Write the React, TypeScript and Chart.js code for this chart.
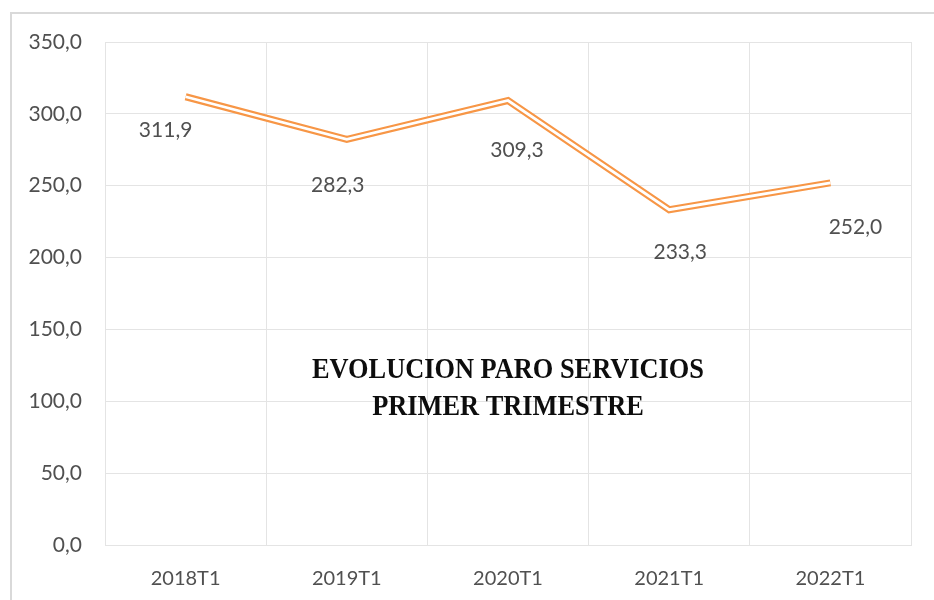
import React, { useEffect, useRef } from "react";
import { Chart, registerables } from "chart.js";

Chart.register(...registerables);

const categories = ["2018T1", "2019T1", "2020T1", "2021T1", "2022T1"];
const paroServicios = [311.9, 282.3, 309.3, 233.3, 252.0];
const yTicks = { min: 0, max: 350, step: 50 };
const titleLines = ["EVOLUCION PARO SERVICIOS", "PRIMER TRIMESTRE"];
// label offsets (px) relative to each point, as placed in the original
const labelOffsets = [
  [-20, 33],
  [-9, 46],
  [9, 50],
  [11, 43],
  [25, 44],
];

const fmt = (v: number) => v.toFixed(1).replace(".", ",");
const ORANGE = "#f79646";
const TEXT = "#505050";
const GRID = "#e4e4e4";
const FONT = "Lato, 'Open Sans', sans-serif";

const labelsPlugin = {
  id: "pointLabels",
  afterDatasetsDraw(chart: any) {
    const ctx = chart.ctx;
    const meta = chart.getDatasetMeta(0);
    ctx.save();
    ctx.font = `21px ${FONT}`;
    ctx.fillStyle = TEXT;
    ctx.textAlign = "center";
    ctx.textBaseline = "middle";
    meta.data.forEach((pt: any, i: number) => {
      const [dx, dy] = labelOffsets[i];
      ctx.fillText(fmt(paroServicios[i]), pt.x + dx, pt.y + dy);
    });
    ctx.restore();
  },
};

const innerTitlePlugin = {
  id: "innerTitle",
  afterDraw(chart: any) {
    const { ctx, chartArea } = chart;
    const cx = (chartArea.left + chartArea.right) / 2;
    ctx.save();
    ctx.font = `bold 30px 'Liberation Serif', serif`;
    ctx.fillStyle = "#0d0d0d";
    ctx.textAlign = "center";
    ctx.textBaseline = "middle";
    const w = ctx.measureText(titleLines[0]).width;
    const sx = 392 / w;
    ctx.translate(cx, 0);
    ctx.scale(sx, 1);
    ctx.fillText(titleLines[0], 0, 370);
    ctx.fillText(titleLines[1], 0, 407);
    ctx.restore();
  },
};

export default function App() {
  const ref = useRef<HTMLCanvasElement | null>(null);
  useEffect(() => {
    if (!ref.current) return;
    const chart = new Chart(ref.current, {
      type: "line",
      data: {
        labels: categories,
        datasets: [
          {
            data: paroServicios,
            borderColor: ORANGE,
            borderWidth: 7,
            pointRadius: 0,
            tension: 0,
            borderJoinStyle: "miter",
            borderCapStyle: "butt",
            order: 2,
          },
          {
            data: paroServicios,
            borderColor: "#ffffff",
            borderWidth: 2.8,
            pointRadius: 0,
            tension: 0,
            borderJoinStyle: "miter",
            borderCapStyle: "butt",
            order: 1,
          },
        ],
      },
      options: {
        responsive: false,
        animation: false,
        layout: { padding: { top: 42, right: 23, left: 0, bottom: 0 } },
        plugins: {
          legend: { display: false },
          title: { display: false },
          tooltip: { enabled: false },
        },
        scales: {
          x: {
            offset: true,
            grid: { offset: true, color: GRID, lineWidth: 1, drawTicks: false },
            border: { display: true, color: GRID },
            ticks: { color: TEXT, font: { family: FONT, size: 20 }, padding: 22, maxRotation: 0 },
            afterFit(scale: any) {
              scale.height = 55;
            },
          },
          y: {
            min: yTicks.min,
            max: yTicks.max,
            grid: { color: GRID, lineWidth: 1, drawTicks: false },
            border: { display: false },
            ticks: {
              stepSize: yTicks.step,
              color: TEXT,
              font: { family: FONT, size: 21 },
              padding: 23,
              callback: (v: any) => fmt(Number(v)),
            },
            afterFit(scale: any) {
              scale.width = 105;
            },
          },
        },
      },
      plugins: [labelsPlugin, innerTitlePlugin],
    } as any);
    return () => chart.destroy();
  }, []);

  return (
    <div style={{ position: "fixed", left: 0, top: 0, width: 934, height: 600, background: "#fff", overflow: "hidden" }}>
      <div
        style={{
          position: "absolute",
          left: 10,
          top: 12,
          width: 960,
          height: 640,
          border: "2px solid #d9d9d9",
          boxSizing: "border-box",
        }}
      />
      <canvas ref={ref} width={934} height={600} style={{ position: "absolute", left: 0, top: 0 }} />
    </div>
  );
}
